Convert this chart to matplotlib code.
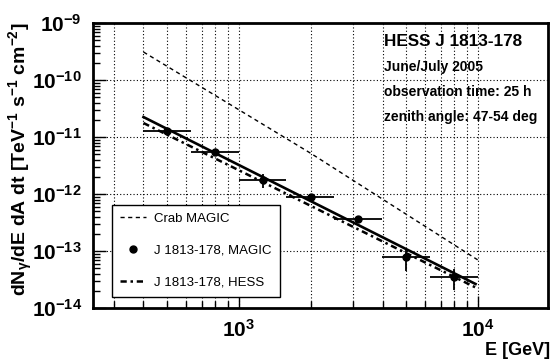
import matplotlib
matplotlib.use("Agg")
import matplotlib.pyplot as plt
import numpy as np
from matplotlib.lines import Line2D
from matplotlib.ticker import FixedLocator, FuncFormatter, NullFormatter

plt.rcParams['font.family'] = ['Liberation Sans', 'DejaVu Sans']
plt.rcParams['mathtext.fontset'] = 'custom'
plt.rcParams['mathtext.rm'] = 'Liberation Sans:bold'
plt.rcParams['mathtext.it'] = 'Liberation Sans:bold'
plt.rcParams['mathtext.bf'] = 'Liberation Sans:bold'

# MAGIC data points for J 1813-178 (GeV, TeV^-1 s^-1 cm^-2)
energy = [500, 795, 1260, 2000, 3160, 5000, 7940]
e_low = [400, 631, 1000, 1585, 2512, 3981, 6310]
e_high = [631, 1000, 1585, 2512, 3981, 6310, 10000]
flux = [1.27e-11, 5.4e-12, 1.75e-12, 8.8e-13, 3.6e-13, 7.8e-14, 3.5e-14]
flux_err = [0.15e-11, 0.6e-12, 0.45e-12, 1.0e-13, 0.5e-13, 3.4e-14, 1.4e-14]

# spectra drawn as lines
crab_e = [400, 2000, 10000]
crab_flux = [3.1e-10, 5.2e-12, 7.0e-14]
magic_e = [400, 9800]
magic_flux = [2.24e-11, 2.64e-14]
hess_e = [400, 10000]
hess_flux = [1.76e-11, 2.2e-14]

fig = plt.figure(figsize=(5.51, 3.6), dpi=100)
ax = fig.add_axes([0.1688, 0.1444, 0.8258, 0.7917])

ax.set_xscale('log')
ax.set_yscale('log')
ax.set_xlim(246, 19700)
ax.set_ylim(1e-14, 1e-9)

# grid: vertical at every decade step, horizontal at decades
xgrid = [300, 400, 500, 600, 700, 800, 900, 1000, 2000, 3000, 4000, 5000,
         6000, 7000, 8000, 9000, 10000]
for xv in xgrid:
    ax.axvline(xv, color='black', lw=0.8, ls=(0, (1, 2)), zorder=0)
for yv in [1e-13, 1e-12, 1e-11, 1e-10]:
    ax.axhline(yv, color='black', lw=0.8, ls=(0, (1, 2)), zorder=0)

l1, = ax.plot(crab_e, crab_flux, color='black', lw=1.0, ls=(0, (3, 2.5)))
ax.plot(magic_e, magic_flux, color='black', lw=1.9, ls='-')
l3, = ax.plot(hess_e, hess_flux, color='black', lw=1.8, ls=(0, (2.5, 1.5, 1, 1.5)))

xerr = [np.array(energy) - np.array(e_low), np.array(e_high) - np.array(energy)]
ax.errorbar(energy, flux, xerr=xerr, yerr=flux_err, fmt='o', color='black',
            ms=5, elinewidth=1.3, capsize=0, zorder=5)
dot = Line2D([], [], marker='o', ls='none', color='black', ms=5)

leg = ax.legend([l1, dot, l3],
                ['Crab MAGIC', 'J 1813-178, MAGIC', 'J 1813-178, HESS'],
                loc='lower left', bbox_to_anchor=(0.042, 0.039), borderaxespad=0,
                fontsize=9.5, frameon=True, fancybox=False, framealpha=1,
                edgecolor='black', labelspacing=1.5, handlelength=2.0,
                handletextpad=0.6, borderpad=0.6)
leg.get_frame().set_linewidth(1.0)

ax.text(0.64, 0.92, 'HESS J 1813-178', transform=ax.transAxes,
        fontsize=12.3, fontweight='bold', va='baseline')
ax.text(0.64, 0.83, 'June/July 2005', transform=ax.transAxes,
        fontsize=10, fontweight='bold', va='baseline')
ax.text(0.64, 0.745, 'observation time: 25 h', transform=ax.transAxes,
        fontsize=10, fontweight='bold', va='baseline')
ax.text(0.64, 0.657, 'zenith angle: 47-54 deg', transform=ax.transAxes,
        fontsize=10, fontweight='bold', va='baseline')

def pow_fmt(v, pos):
    return r'$10^{%d}$' % int(round(np.log10(v)))

ax.xaxis.set_major_locator(FixedLocator([1e3, 1e4]))
ax.xaxis.set_minor_locator(FixedLocator([300, 400, 500, 600, 700, 800, 900,
                                         2000, 3000, 4000, 5000, 6000, 7000, 8000, 9000]))
ax.xaxis.set_major_formatter(FuncFormatter(pow_fmt))
ax.xaxis.set_minor_formatter(NullFormatter())
ax.yaxis.set_major_locator(FixedLocator([1e-14, 1e-13, 1e-12, 1e-11, 1e-10, 1e-9]))
ax.yaxis.set_major_formatter(FuncFormatter(pow_fmt))

ax.tick_params(which='both', direction='in', top=False, right=False, labelsize=15)
ax.tick_params(which='major', length=9, width=1)
ax.tick_params(which='minor', length=5, width=1)
ax.tick_params(axis='y', pad=8)
ax.tick_params(axis='x', pad=8)

for s in ax.spines.values():
    s.set_linewidth(2)

ax.set_ylabel(r'dN$_\gamma$/dE dA dt [TeV$^{-1}$ s$^{-1}$ cm$^{-2}$]',
              fontsize=14, fontweight='bold', loc='top')
ax.yaxis.label.set_va('center')
ax.yaxis.set_label_coords(-0.158, 1.0)
ax.set_xlabel('E [GeV]', fontsize=13, fontweight='bold', loc='right')
ax.xaxis.set_label_coords(1.005, -0.12)

fig.savefig('out.png', dpi=100)
